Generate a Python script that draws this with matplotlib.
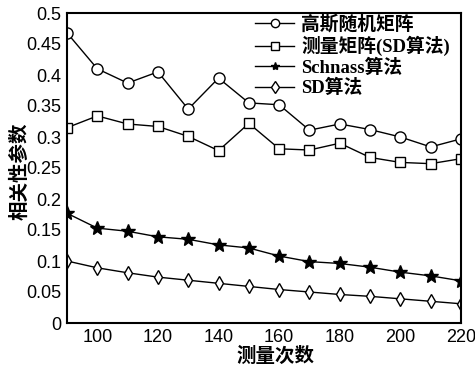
import matplotlib
matplotlib.use('Agg')
import matplotlib.pyplot as plt

# measurement counts
x = [90, 100, 110, 120, 130, 140, 150, 160, 170, 180, 190, 200, 210, 220]

gauss = [0.468, 0.410, 0.387, 0.405, 0.345, 0.395, 0.355, 0.352, 0.311, 0.321, 0.312, 0.300, 0.284, 0.297]
meas_sd = [0.315, 0.334, 0.321, 0.317, 0.301, 0.278, 0.322, 0.281, 0.279, 0.290, 0.267, 0.259, 0.257, 0.265]
schnass = [0.177, 0.153, 0.148, 0.139, 0.135, 0.126, 0.121, 0.108, 0.099, 0.096, 0.090, 0.082, 0.076, 0.068]
sd_alg = [0.100, 0.089, 0.081, 0.074, 0.069, 0.064, 0.059, 0.054, 0.050, 0.046, 0.043, 0.039, 0.035, 0.031]

labels = ['高斯随机矩阵', '测量矩阵(SD算法)', 'Schnass算法', 'SD算法']

fig = plt.figure(figsize=(4.75, 3.69), dpi=100)
ax = fig.add_axes([67 / 475, 46 / 369, 394 / 475, 310 / 369])

ax.plot(x, gauss, 'k-', marker='o', mfc='white', mec='k', ms=8, lw=1, label=labels[0])
ax.plot(x, meas_sd, 'k-', marker='s', mfc='white', mec='k', ms=7, lw=1, label=labels[1])
ax.plot(x, schnass, 'k-', marker='*', mfc='k', mec='k', ms=10, lw=1, label=labels[2])
ax.plot(x, sd_alg, 'k-', marker='d', mfc='white', mec='k', ms=7.5, lw=1, label=labels[3])

ax.set_xlim(90, 220)
ax.set_ylim(0, 0.5)
ax.set_xticks([100, 120, 140, 160, 180, 200, 220])
ax.set_yticks([0, 0.05, 0.1, 0.15, 0.2, 0.25, 0.3, 0.35, 0.4, 0.45, 0.5])
ax.set_yticklabels(['0', '0.05', '0.1', '0.15', '0.2', '0.25', '0.3', '0.35', '0.4', '0.45', '0.5'])
ax.tick_params(length=0, labelsize=13, pad=4)
for lab in ax.get_xticklabels() + ax.get_yticklabels():
    lab.set_family(['Liberation Sans', 'DejaVu Sans'])
for s in ax.spines.values():
    s.set_linewidth(1.5)

ax.set_xlabel('测量次数', family=['Noto Sans CJK SC'], fontsize=14, fontweight='bold')
ax.set_ylabel('相关性参数', family=['Noto Sans CJK SC'], fontsize=14, fontweight='bold')
ax.xaxis.set_label_coords(0.53, -0.075)
ax.yaxis.set_label_coords(-0.095, 0.49)

leg = ax.legend(loc='upper right', bbox_to_anchor=(1.0, 1.03), frameon=False, handlelength=2.1,
                handletextpad=0.35, labelspacing=0.12, borderaxespad=0.2,
                prop={'family': ['Liberation Serif', 'Noto Sans CJK SC'], 'size': 13.5, 'weight': 'bold'})
for h in leg.legend_handles:
    h.set_markersize(6)

fig.savefig('out.png', dpi=100)
